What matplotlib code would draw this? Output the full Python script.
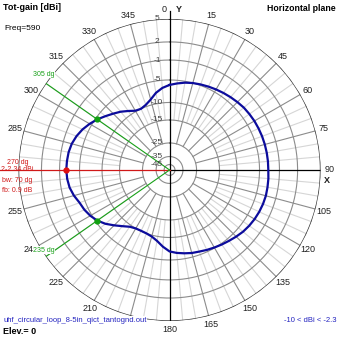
# 4nec2 style horizontal-plane pattern of a UHF circular loop
import numpy as np
import matplotlib.pyplot as plt

plt.rcParams['font.family'] = ['Liberation Sans', 'DejaVu Sans']

# total gain (dBi) every 5 deg, 0 = Y axis, clockwise
azimuth = np.arange(0, 360, 5)
gain = [-6.1, -5.7, -5.3, -5.0, -4.8, -4.6, -4.4, -4.2, -4.0, -3.8,
        -3.6, -3.5, -3.4, -3.35, -3.3, -3.27, -3.25, -3.24, -3.24, -3.15,
        -3.1, -3.05, -3.1, -3.2, -3.35, -3.55, -3.8, -4.15, -4.5, -4.8,
        -5.1, -5.4, -5.7, -5.9, -6.2, -6.5, -6.9, -7.9, -9.0, -9.7,
        -10.0, -10.1, -10.0, -9.6, -8.7, -7.6, -6.4, -5.4, -4.7, -4.2,
        -3.85, -3.2, -2.7, -2.45, -2.34, -2.4, -2.5, -2.75, -3.2, -3.8,
        -4.55, -5.4, -6.4, -7.3, -8.1, -9.0, -9.8, -10.0, -9.6, -8.8,
        -7.6, -6.7]

# max marker and -3 dB beamwidth markers
max_az = 270
max_gain = -2.34
bw_az = [305, 235]
bw_gain = max_gain - 3

# dB rings and their relative radius on the 4nec2 scale
ring_db = [5, 2, -1, -5, -10, -15, -25, -35, -45]
ring_frac = [1.0, 0.848, 0.728, 0.596, 0.447, 0.331, 0.179, 0.089, 0.036]

angle_labels = [a for a in range(0, 360, 15) if a not in (0, 195, 270)]


def to_r(db):
    """gain in dB -> radius on the plot"""
    return np.interp(db, ring_db[::-1], ring_frac[::-1])


def px(x, y):
    """pixel position (from top-left) -> figure fraction"""
    return x / 339, 1 - y / 339


fig = plt.figure(figsize=(3.39, 3.39), dpi=100)
ax = fig.add_axes([0.0546, 0.0531, 0.891, 0.891], projection='polar')
ax.set_theta_zero_location('N')
ax.set_theta_direction(-1)
ax.set_ylim(0, 1)
ax.set_xticks([])
ax.set_yticks([])
ax.grid(False)
ax.spines['polar'].set_visible(False)

# spokes
for a in range(0, 360, 5):
    if a % 90 == 0:
        continue
    t = np.deg2rad(a)
    if a % 15 == 0:
        ax.plot([t, t], [to_r(-25), 1], color='#8c8c8c', lw=0.8, zorder=1)
    else:
        ax.plot([t, t], [to_r(-15), 1], color='#d6d6d6', lw=0.8, zorder=0.5)

# rings
th = np.linspace(0, 2 * np.pi, 400)
for db in ring_db[1:]:
    ax.plot(th, np.full_like(th, to_r(db)), color='#8c8c8c', lw=0.8, zorder=1)
ax.plot(th, np.ones_like(th), color='#303030', lw=1.0, zorder=2)

# main axes
ax.plot([0, 0], [0, 1.05], color='black', lw=0.9, clip_on=False, zorder=2)
ax.plot([np.pi, np.pi], [0, 1], color='black', lw=0.9, zorder=2)
ax.plot([np.pi / 2] * 2, [0, 1], color='black', lw=0.9, zorder=2)
ax.plot([np.deg2rad(max_az)] * 2, [0, 1.126], color='#d01818', lw=0.9,
        clip_on=False, zorder=3)
for a in bw_az:
    ax.plot([np.deg2rad(a)] * 2, [0, 1], color='#18a018', lw=0.8, zorder=3)

# ring labels
for db, fr in zip(ring_db, ring_frac):
    ax.annotate(str(db), xy=(0, fr), xytext=(-9, 0), textcoords='offset points',
                ha='center', va='center', fontsize=6, color='#404040', zorder=4)

# angle labels
for a in angle_labels:
    ax.text(np.deg2rad(a), 1.058, str(a), ha='center', va='center',
            fontsize=6.5, color='#202020', clip_on=False)
fig.text(*px(164.5, 10), '0', ha='center', va='center', fontsize=6.5, color='#202020')
fig.text(*px(178.5, 9), 'Y', ha='center', va='center', fontsize=6.5,
         fontweight='bold', color='#202020')
fig.text(*px(326.5, 180), 'X', ha='center', va='center', fontsize=6.5,
         fontweight='bold', color='#202020')

# pattern
t = np.deg2rad(np.append(azimuth, azimuth[0]))
r = to_r(np.append(gain, gain[0]))
ax.plot(t, r, color='#0c0c9c', lw=1.6, zorder=5, solid_joinstyle='round')
ax.plot(np.deg2rad(max_az), to_r(max_gain), 'o', color='#e01010', ms=3.5, zorder=6)
ax.plot(np.deg2rad(bw_az), to_r([bw_gain] * 2), 'o', color='#10a010', ms=3.5, zorder=6)

# marker texts
red = '#d01818'
fig.text(*px(17.5, 162.5), '270 dg', ha='center', va='center', fontsize=5, color=red)
fig.text(*px(17.5, 169.5), '2-2.34 dBi', ha='center', va='center', fontsize=5, color=red)
fig.text(*px(17.5, 180.5), 'bw: 70 dg', ha='center', va='center', fontsize=5, color=red)
fig.text(*px(17.5, 190), 'fb: 0.9 dB', ha='center', va='center', fontsize=5, color=red)
fig.text(*px(44, 74.5), '305 dg', ha='center', va='center', fontsize=5, color='#18a018',
         bbox=dict(facecolor='white', edgecolor='none', pad=0.3))
fig.text(*px(44, 250), '235 dg', ha='center', va='center', fontsize=5, color='#18a018',
         bbox=dict(facecolor='white', edgecolor='none', pad=0.3))

# headers and footers
fig.text(*px(3, 8), 'Tot-gain [dBi]', ha='left', va='center', fontsize=6.5, fontweight='bold')
fig.text(*px(4, 28.5), 'Freq=590', ha='left', va='center', fontsize=6)
fig.text(*px(336, 8.5), 'Horizontal plane', ha='right', va='center', fontsize=6.3,
         fontweight='bold')
fig.text(*px(3, 320.5), 'uhf_circular_loop_8-5in_qict_tantognd.out', ha='left',
         va='center', fontsize=5.5, color='#2424c0',
         bbox=dict(facecolor='white', edgecolor='none', pad=0.5))
fig.text(*px(3, 332), 'Elev.= 0', ha='left', va='center', fontsize=6.5, fontweight='bold')
fig.text(*px(337, 321), '-10 < dBi < -2.3', ha='right', va='center', fontsize=5.5,
         color='#2424c0')

fig.savefig('out.png', dpi=100, facecolor='white')
